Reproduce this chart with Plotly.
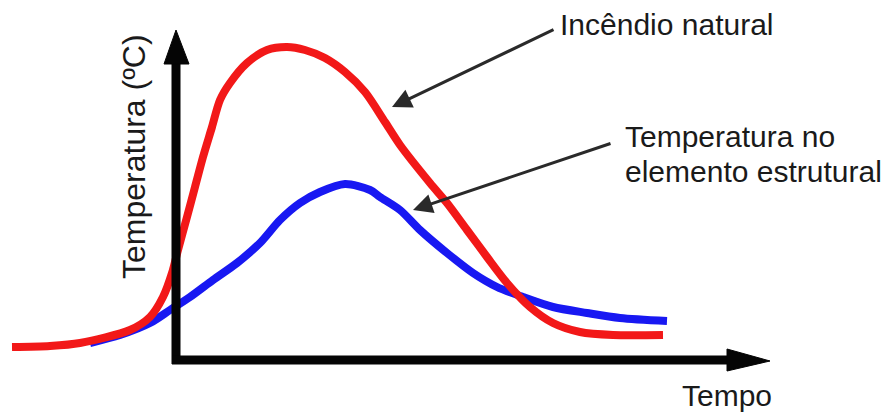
import plotly.graph_objects as go

# Data (time and temperature in arbitrary units; origin = axes corner)
fire_t = [-164, -126, -96, -46, -26, -13, -4, 2, 11, 19, 27, 36, 44, 54, 71, 91, 111,
          129, 149, 169, 189, 209, 224, 254, 271, 291, 311, 331, 354, 377, 404, 437, 487]
fire_T = [13, 14, 17, 30, 43, 63, 87, 110, 143, 173, 203, 233, 260, 277, 297, 310, 313,
          310, 302, 288, 268, 238, 215, 177, 157, 130, 103, 77, 53, 37, 28, 25, 25]

steel_t = [-86, -56, -26, -6, 14, 37, 61, 84, 104, 124, 144, 169, 194, 204, 224, 244,
           271, 297, 321, 347, 377, 411, 444, 491]
steel_T = [17, 25, 37, 50, 63, 80, 97, 117, 140, 157, 168, 176, 170, 163, 150, 130,
           107, 87, 73, 63, 53, 47, 42, 39]

x_label = "Tempo"
y_label = "Temperatura (ºC)"
label_fire = "Incêndio natural"
label_steel_1 = "Temperatura no"
label_steel_2 = "elemento estrutural"

fig = go.Figure()
fig.add_trace(go.Scatter(x=steel_t, y=steel_T, mode="lines",
                         line=dict(color="#1818f2", width=8, shape="spline", smoothing=0.8),
                         hoverinfo="skip", showlegend=False))
fig.add_trace(go.Scatter(x=fire_t, y=fire_T, mode="lines",
                         line=dict(color="#f21818", width=8, shape="spline", smoothing=0.8),
                         hoverinfo="skip", showlegend=False))

# Axes with arrows (drawn as shapes)
ax_col = "#050505"
shapes = [
    dict(type="line", xref="x", yref="y", x0=0, x1=0, y0=-4, y1=300,
         line=dict(color=ax_col, width=9)),
    dict(type="path", xref="x", yref="y", path="M -12 296 L 13 296 L 0 330 Z",
         fillcolor=ax_col, line=dict(color=ax_col, width=1)),
    dict(type="line", xref="x", yref="y", x0=-4, x1=556, y0=0, y1=0,
         line=dict(color=ax_col, width=9)),
    dict(type="path", xref="x", yref="y", path="M 551 11 L 551 -11 L 594 -1 Z",
         fillcolor=ax_col, line=dict(color=ax_col, width=1)),
]

font = dict(family="Liberation Sans, Arial, sans-serif", size=30, color="#1a1a1a")
ann = [
    dict(x=216, y=253, ax=379, ay=331, xref="x", yref="y", axref="x", ayref="y",
         text="", showarrow=True, arrowhead=2, arrowsize=1.3, arrowwidth=3, arrowcolor="#2a2a2a"),
    dict(x=237, y=150, ax=436, ay=217, xref="x", yref="y", axref="x", ayref="y",
         text="", showarrow=True, arrowhead=2, arrowsize=1.3, arrowwidth=3, arrowcolor="#2a2a2a"),
    dict(x=382, y=336, xref="x", yref="y", text=label_fire, showarrow=False,
         xanchor="left", yanchor="middle", font=font),
    dict(x=447, y=224, xref="x", yref="y", text=label_steel_1, showarrow=False,
         xanchor="left", yanchor="middle", font=font),
    dict(x=447, y=189, xref="x", yref="y", text=label_steel_2, showarrow=False,
         xanchor="left", yanchor="middle", font=font),
    dict(x=504, y=-35, xref="x", yref="y", text=x_label, showarrow=False,
         xanchor="left", yanchor="middle", font=font),
    dict(x=-42, y=203, xref="x", yref="y", text=y_label, showarrow=False,
         textangle=-90, xanchor="center", yanchor="middle",
         font=dict(family="Liberation Sans, Arial, sans-serif", size=32, color="#1a1a1a")),
]

# The page body has an 8px margin, so the figure is 8px smaller than the window
fig.update_layout(
    width=885, height=411, autosize=False,
    margin=dict(l=0, r=0, t=0, b=0),
    paper_bgcolor="white", plot_bgcolor="white",
    xaxis=dict(range=[-168, 717], visible=False, fixedrange=True),
    yaxis=dict(range=[-59, 352], visible=False, fixedrange=True),
    shapes=shapes, annotations=ann, showlegend=False,
)

fig.write_html("out.html")
